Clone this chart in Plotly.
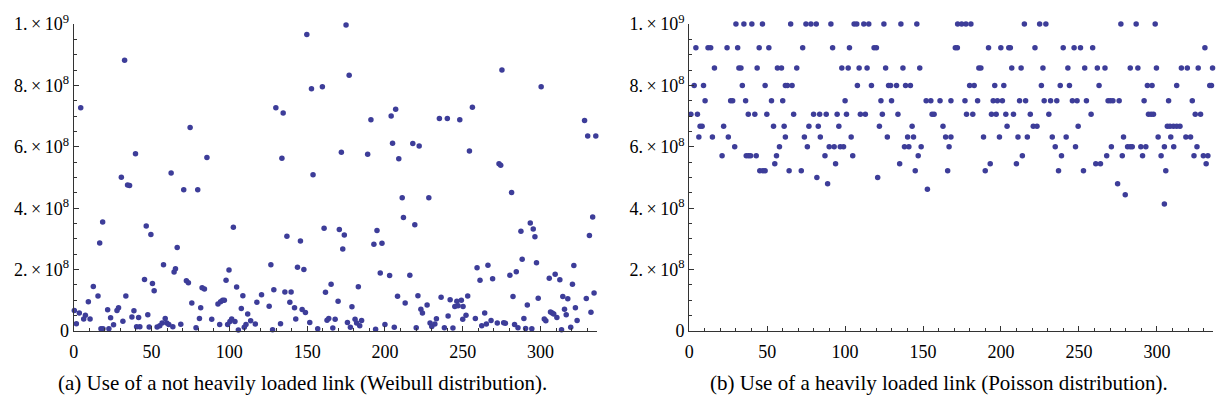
import plotly.graph_objects as go

# ---------------- data ----------------
# (a) Weibull: sample index vs value (units of 1e8)
left_x = [0.4, 1.7, 3.6, 4.5, 6.4, 7.5, 9.4, 10.5, 12.6, 15.6, 16.7, 17.5, 18.6, 18.8, 21.8, 22.6, 23.7, 25.6, 27.8, 28.8,
          30.6, 31.6, 32.7, 33.5, 34.6, 35.9, 37.4, 38.7, 39.7, 40.4, 41.7, 42.5, 45.5, 46.6, 47.6, 48.5, 49.6, 50.6, 51.7, 53.6,
          55.3, 56.8, 57.7, 58.8, 59.8, 61.1, 62.6, 63.7, 64.5, 65.4, 66.5, 68.8, 70.7, 72.4, 73.7, 74.8, 75.9, 78.6, 79.7, 80.8,
          81.6, 82.5, 84.0, 85.6, 88.7, 92.7, 93.8, 94.4, 95.7, 96.8, 97.9, 98.9, 99.8, 100.4, 101.5, 102.6, 103.6, 104.7, 105.8, 107.7,
          108.7, 109.6, 110.7, 111.8, 113.7, 116.7, 117.7, 120.7, 125.6, 126.7, 127.8, 128.6, 129.9, 132.9, 133.8, 134.6, 135.7, 137.0, 138.9, 139.7,
          141.9, 142.7, 143.8, 145.7, 146.8, 147.9, 148.9, 149.8, 151.7, 152.8, 153.8, 156.8, 159.8, 160.9, 161.8, 162.8, 163.9, 165.4, 166.5, 168.0,
          169.9, 170.7, 172.0, 172.9, 173.9, 175.0, 175.9, 177.0, 177.8, 178.8, 180.8, 181.8, 182.9, 183.8, 185.0, 188.9, 191.0, 192.9, 194.0, 194.9,
          197.0, 198.1, 200.0, 203.0, 204.0, 204.9, 206.0, 206.9, 208.1, 208.9, 211.1, 211.9, 213.0, 216.0, 217.9, 219.2, 220.1, 221.2, 222.0, 223.1,
          224.1, 227.1, 228.2, 229.0, 230.1, 232.1, 233.1, 235.0, 236.1, 238.2, 240.1, 240.6, 241.9, 243.7, 244.9, 246.2, 247.0, 248.1, 249.1, 250.0,
          250.2, 252.1, 253.2, 254.3, 256.2, 258.1, 259.2, 261.1, 262.2, 264.1, 265.2, 266.2, 268.2, 269.2, 272.2, 273.3, 274.4, 275.2, 276.3, 277.4,
          280.3, 281.4, 282.3, 283.3, 284.4, 285.5, 287.4, 288.2, 289.3, 290.4, 291.5, 293.4, 294.4, 295.3, 296.4, 297.4, 298.5, 300.4, 302.4, 303.4,
          305.6, 306.4, 307.5, 308.5, 309.4, 310.5, 312.4, 313.5, 314.3, 315.4, 316.5, 317.5, 319.4, 320.5, 321.4, 322.4, 323.5, 328.3, 329.4, 330.3,
          331.4, 332.4, 333.5, 334.4, 335.5]
left_y = [0.67, 0.24, 0.59, 7.27, 0.39, 0.51, 0.95, 0.39, 1.45, 1.14, 2.87, 0.07, 3.55, 0.07, 0.69, 0.07, 0.43, 0.20, 0.67, 0.76,
          5.01, 0.32, 8.82, 1.14, 4.76, 4.74, 0.46, 0.66, 5.77, 0.14, 0.44, 0.14, 1.68, 3.42, 0.53, 0.13, 3.14, 1.55, 1.31, 0.13,
          0.17, 0.26, 2.16, 0.41, 0.26, 0.21, 5.15, 0.14, 1.92, 2.03, 2.72, 0.22, 4.60, 1.64, 1.57, 6.63, 0.91, 0.11, 4.60, 0.41,
          0.76, 1.41, 1.37, 5.65, 0.38, 0.88, 0.21, 0.95, 1.00, 1.00, 1.65, 0.21, 1.99, 0.31, 0.39, 3.38, 0.31, 1.43, 0.03, 0.73,
          1.15, 0.12, 0.21, 0.55, 0.33, 0.23, 0.94, 1.18, 0.81, 2.16, 0.04, 1.34, 7.27, 0.24, 5.63, 7.10, 1.27, 3.09, 0.94, 1.27,
          0.76, 0.39, 2.08, 2.93, 0.70, 2.00, 0.60, 9.66, 0.28, 7.89, 5.09, 0.07, 7.96, 3.35, 1.26, 0.35, 0.41, 1.52, 0.10, 0.38,
          0.97, 3.31, 5.82, 2.67, 3.13, 9.97, 0.28, 8.33, 0.12, 0.79, 0.38, 0.26, 1.44, 0.17, 0.34, 5.76, 6.88, 2.83, 0.06, 3.27,
          1.89, 2.86, 0.21, 1.81, 7.00, 6.12, 0.12, 7.22, 1.13, 5.61, 4.34, 3.70, 0.91, 1.82, 6.11, 3.46, 0.11, 1.15, 6.03, 0.71,
          0.59, 0.85, 4.34, 0.26, 0.15, 0.23, 0.40, 6.92, 1.10, 0.11, 6.92, 0.49, 1.02, 0.10, 0.80, 0.97, 0.82, 6.88, 1.00, 0.38,
          0.80, 0.51, 1.14, 5.86, 7.29, 0.41, 2.06, 1.65, 0.17, 0.59, 0.23, 2.14, 0.34, 1.70, 0.26, 5.45, 5.40, 8.50, 0.27, 0.25,
          1.82, 4.51, 1.12, 0.21, 1.93, 0.11, 3.25, 2.34, 0.41, 0.08, 0.85, 3.52, 0.07, 3.32, 3.07, 2.22, 1.07, 7.96, 0.39, 0.33,
          1.72, 0.62, 0.59, 0.55, 1.85, 0.44, 1.67, 0.04, 1.12, 0.71, 0.53, 1.05, 0.12, 1.52, 2.13, 0.76, 0.34, 6.86, 1.06, 6.35,
          3.11, 0.61, 3.71, 1.24, 6.35]

# (b) Poisson: values sit on discrete levels (units of 1e8); x positions per level
right_levels = [10.0, 9.23, 8.57, 8.0, 7.5, 7.06, 6.67, 6.32, 6.0, 5.71, 5.45, 5.22, 5.0, 4.8, 4.62, 4.44, 4.14]
right_x_groups = [
    [30.0, 35.1, 40.2, 47.0, 65.1, 74.9, 78.1, 81.5, 90.9, 105.8, 107.5, 112.0, 115.2, 124.9, 135.8, 146.0, 172.2, 174.8,
     177.5, 180.7, 215.0, 224.8, 228.8, 276.9, 286.7, 298.9],
    [4.3, 12.1, 13.8, 24.3, 31.1, 44.9, 51.1, 72.8, 92.0, 102.8, 118.6, 120.1, 170.7, 172.0, 192.0, 199.9, 205.0, 206.0,
     221.8, 239.9, 246.9, 251.0, 258.8, 330.8],
    [16.2, 31.9, 33.2, 43.6, 56.6, 59.2, 69.0, 97.9, 102.0, 109.0, 114.1, 126.0, 137.1, 147.9, 185.8, 187.1, 206.9, 212.9,
     226.9, 242.9, 253.7, 261.8, 266.7, 282.9, 287.8, 299.7, 315.7, 319.5, 326.5, 335.7],
    [3.2, 9.2, 34.1, 48.7, 61.7, 63.0, 66.0, 107.9, 116.9, 127.9, 129.2, 133.0, 138.8, 141.9, 179.9, 182.8, 196.0, 201.8,
     225.9, 238.0, 243.9, 262.9, 293.9, 296.9, 312.7, 333.9, 335.0],
    [10.2, 26.6, 27.9, 36.2, 52.8, 60.0, 100.0, 123.0, 129.8, 152.0, 155.0, 160.9, 167.9, 176.9, 185.0, 195.0, 197.7, 200.9,
     211.9, 215.8, 227.7, 231.8, 235.8, 245.8, 248.8, 254.8, 268.7, 270.2, 271.8, 275.8, 291.8, 307.5, 322.7],
    [1.1, 5.3, 37.9, 42.1, 49.8, 67.0, 79.8, 83.7, 87.9, 94.9, 100.9, 109.8, 113.0, 123.9, 133.9, 155.8, 157.1, 177.9,
     181.9, 193.9, 196.9, 203.1, 208.0, 218.8, 230.7, 257.8, 294.6, 296.3, 297.8, 324.6, 328.0],
    [7.0, 8.3, 22.1, 54.1, 60.9, 76.8, 82.8, 96.0, 122.0, 143.0, 162.8, 203.9, 220.7, 223.1, 249.5, 306.7, 308.4, 310.6,
     312.7, 314.8],
    [6.2, 14.9, 25.1, 61.7, 73.9, 84.1, 103.9, 127.1, 140.1, 143.9, 164.5, 167.9, 188.8, 199.0, 210.9, 216.9, 232.9, 241.8,
     278.6, 300.8, 308.9, 318.6, 321.6],
    [29.2, 57.9, 75.8, 89.8, 93.0, 96.9, 99.0, 138.1, 140.9, 148.8, 166.7, 234.8, 247.8, 270.8, 281.2, 282.9, 284.2, 289.7,
     292.9, 304.8, 310.8, 325.7],
    [21.1, 36.6, 38.1, 39.4, 43.0, 56.0, 87.1, 104.9, 146.9, 213.7, 238.8, 267.8, 277.8, 290.8, 302.7, 323.8, 329.8, 332.7],
    [54.9, 93.9, 135.0, 193.1, 209.9, 260.8, 263.8, 331.6],
    [45.3, 47.3, 48.7, 64.1, 71.9, 145.0, 165.8, 189.9, 236.9, 252.9, 305.7],
    [81.9, 120.9],
    [88.8, 274.8],
    [152.8],
    [279.7],
    [304.8],
]

x_major = [0, 50, 100, 150, 200, 250, 300]
x_minor = [v for v in range(0, 337, 10) if v % 50 != 0]
y_major = [0, 2e8, 4e8, 6e8, 8e8, 1e9]
y_labels = ["0", "2.\u2009×\u200910<sup>8</sup>", "4.\u2009×\u200910<sup>8</sup>", "6.\u2009×\u200910<sup>8</sup>",
            "8.\u2009×\u200910<sup>8</sup>", "1.\u2009×\u200910<sup>9</sup>"]
y_minor = [v * 0.5e8 for v in range(0, 21) if v % 4 != 0]
captions = ["(a) Use of a not heavily loaded link (Weibull distribution).",
            "(b) Use of a heavily loaded link (Poisson distribution)."]

# ---------------- figure ----------------
COL = "rgb(61,61,153)"
W, H = 1218, 412

right_x, right_y = [], []
for lev, xs in zip(right_levels, right_x_groups):
    right_x += xs
    right_y += [lev] * len(xs)

fig = go.Figure()
fig.add_trace(go.Scatter(x=left_x, y=[v * 1e8 for v in left_y], mode="markers",
                         marker=dict(size=5.5, color=COL), cliponaxis=False,
                         xaxis="x", yaxis="y", showlegend=False))
fig.add_trace(go.Scatter(x=right_x, y=[v * 1e8 for v in right_y], mode="markers",
                         marker=dict(size=5.5, color=COL), cliponaxis=False,
                         xaxis="x2", yaxis="y2", showlegend=False))

FONT = "Liberation Serif, DejaVu Serif, Times New Roman, serif"
axcommon = dict(showline=True, linecolor="#333", linewidth=1, ticks="inside", tickcolor="#333",
                showgrid=False, zeroline=False, mirror=False,
                tickfont=dict(family=FONT, size=18, color="black"))

def xax(domain, anchor):
    return dict(axcommon, domain=domain, anchor=anchor, range=[0, 336], tickmode="array",
                tickvals=x_major, ticktext=[str(v) for v in x_major], ticklen=5,
                ticklabelstandoff=4,
                minor=dict(tickvals=x_minor, ticks="inside", ticklen=3, tickcolor="#333"))

def yax(anchor):
    return dict(axcommon, domain=[1 - 337 / H, 1 - 12.7 / H], anchor=anchor, range=[0, 1e9],
                tickmode="array", tickvals=y_major, ticktext=y_labels, ticklen=5,
                minor=dict(tickvals=y_minor, ticks="inside", ticklen=3, tickcolor="#333"))

fig.update_layout(
    width=W, height=H, margin=dict(l=0, r=0, t=0, b=0),
    paper_bgcolor="white", plot_bgcolor="white",
    font=dict(family=FONT),
    xaxis=xax([69 / W, 594 / W], "y"),
    yaxis=yax("x"),
    xaxis2=xax([687 / W, 1213 / W], "y2"),
    yaxis2=yax("x2"),
    annotations=[
        dict(text=captions[0], x=299 / W, y=1 - 392 / H, xref="paper", yref="paper",
             showarrow=False, xanchor="center", yanchor="middle",
             font=dict(family=FONT, size=21, color="black")),
        dict(text=captions[1], x=938 / W, y=1 - 392 / H, xref="paper", yref="paper",
             showarrow=False, xanchor="center", yanchor="middle",
             font=dict(family=FONT, size=21, color="black")),
    ],
)

fig.write_html("out.html")
